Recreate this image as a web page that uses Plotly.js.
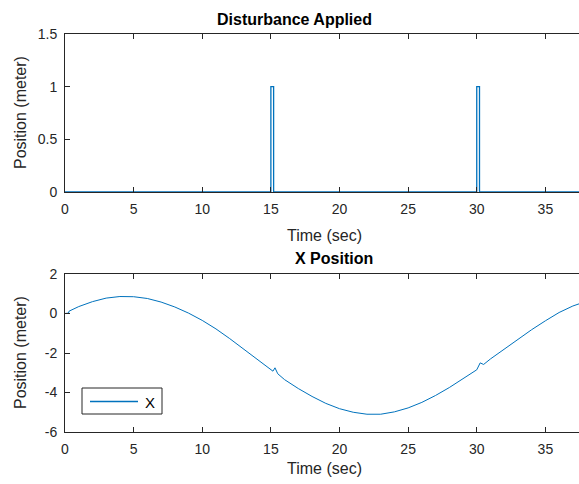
<!DOCTYPE html>
<html><head><meta charset="utf-8">
<script src="https://cdn.plot.ly/plotly-3.0.1.min.js"></script>
<style>html,body{margin:0;padding:0;overflow:hidden;background:#fff;width:579px;height:484px}#c{width:620px;height:484px}</style>
</head><body><div id="c"></div>
<script>
// Disturbance pulses
const distTime = [0, 15, 15, 15.2, 15.2, 30, 30, 30.2, 30.2, 37.5];
const distValue = [0, 0, 1, 1, 0, 0, 1, 1, 0, 0];
// X position
const posTime = [0, 0.25, 0.3, 1, 2, 3, 4, 5, 6, 7, 8, 9, 10, 11, 12, 13, 14, 15, 15.15, 15.3, 15.5, 16, 17, 18, 19, 20, 21, 22, 23, 24, 25, 26, 27, 28, 29, 30, 30.25, 30.5, 31, 32, 33, 34, 35, 36, 37, 37.5];
const posValue = [0, 0.02, 0.12, 0.35, 0.6, 0.78, 0.86, 0.85, 0.76, 0.58, 0.33, 0.02, -0.35, -0.78, -1.27, -1.8, -2.35, -2.85, -2.92, -2.75, -3.05, -3.35, -3.8, -4.2, -4.55, -4.82, -5.0, -5.1, -5.1, -4.98, -4.78, -4.5, -4.15, -3.75, -3.3, -2.85, -2.5, -2.58, -2.3, -1.8, -1.3, -0.82, -0.37, 0.05, 0.38, 0.5];
const xTicks = [0, 5, 10, 15, 20, 25, 30, 35];
const yTicksTop = [0, 0.5, 1, 1.5];
const yTicksBottom = [-6, -4, -2, 0, 2];
const seriesName = 'X';

const blue = '#0072BD';
const ink = '#262626';
const font = 'Liberation Sans, Arial, sans-serif';
const W = 549, H = 484, L = 65;
const px = v => (v - L) / W;
const py = v => 1 - v / H;

const axBase = {
  showgrid: false, zeroline: false, showline: true, linecolor: ink, linewidth: 1,
  mirror: 'ticks', ticks: 'inside', ticklen: 5, tickcolor: ink, ticklabelstandoff: 4,
  tickfont: {family: font, size: 14, color: ink}
};
const xBase = Object.assign({}, axBase, {range: [0, 40], tickvals: xTicks, ticktext: xTicks.map(String)});

const traces = [
  {x: distTime, y: distValue, type: 'scatter', mode: 'lines', line: {color: blue, width: 1.3}, xaxis: 'x', yaxis: 'y', showlegend: false},
  {x: posTime, y: posValue, type: 'scatter', mode: 'lines', line: {color: blue, width: 1}, xaxis: 'x2', yaxis: 'y2', name: seriesName, showlegend: false}
];

const tf = {family: font, size: 16, color: ink};
const ann = (text, x, y, extra) => Object.assign({text, xref: 'paper', yref: 'paper', x: px(x), y: py(y), xanchor: 'center', yanchor: 'middle', showarrow: false, font: tf}, extra || {});

const layout = {
  width: 620, height: 484,
  margin: {l: 65, r: 6, t: 0, b: 0},
  paper_bgcolor: '#fff', plot_bgcolor: '#fff',
  showlegend: false,
  xaxis: Object.assign({}, xBase, {anchor: 'y', domain: [0, 1]}),
  yaxis: Object.assign({}, axBase, {anchor: 'x', domain: [py(192), py(34)], range: [0, 1.5], tickvals: yTicksTop, ticktext: ['0','0.5','1','1.5']}),
  xaxis2: Object.assign({}, xBase, {anchor: 'y2', domain: [0, 1]}),
  yaxis2: Object.assign({}, axBase, {anchor: 'x2', domain: [py(432), py(274)], range: [-6, 2], tickvals: yTicksBottom, ticktext: yTicksBottom.map(String)}),
  annotations: [
    ann('<b>Disturbance Applied</b>', 294, 19, {font: {family: font, size: 16, color: '#000'}}),
    ann('<b>X Position</b>', 334, 258, {font: {family: font, size: 16, color: '#000'}}),
    ann('Time (sec)', 324, 235),
    ann('Time (sec)', 324, 468),
    ann('Position (meter)', 20, 113, {textangle: -90}),
    ann('Position (meter)', 20, 353, {textangle: -90}),
    ann(seriesName, 150, 402, {font: {family: font, size: 15, color: '#000'}})
  ],
  shapes: [
    {type: 'rect', xref: 'paper', yref: 'paper', x0: px(82), x1: px(162), y0: py(414), y1: py(388), line: {color: ink, width: 1}, fillcolor: '#fff', layer: 'above'},
    {type: 'line', xref: 'paper', yref: 'paper', x0: px(90), x1: px(138), y0: py(401.5), y1: py(401.5), line: {color: blue, width: 1.3}, layer: 'above'}
  ]
};

Plotly.newPlot('c', traces, layout, {staticPlot: true, displayModeBar: false});
</script>
</body></html>
